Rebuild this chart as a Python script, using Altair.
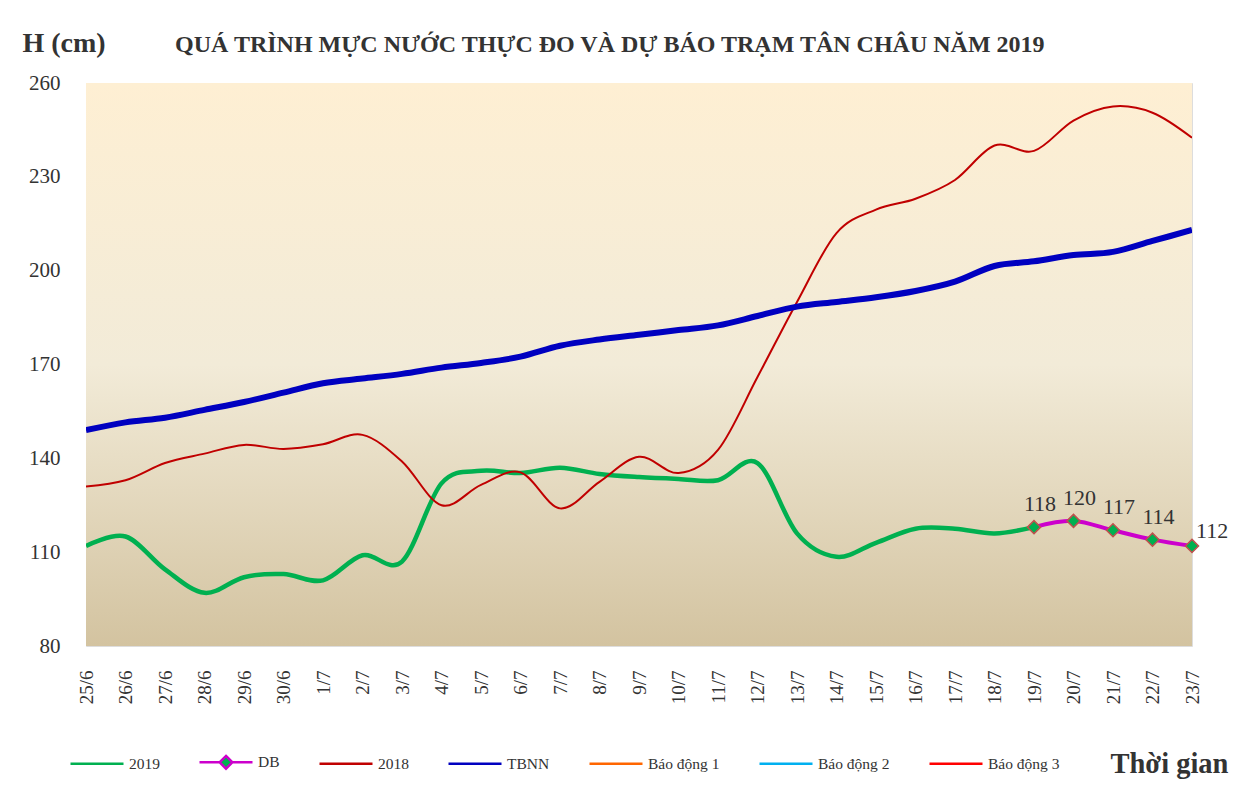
import altair as alt
import pandas as pd

dates = ["25/6", "26/6", "27/6", "28/6", "29/6", "30/6", "1/7", "2/7", "3/7", "4/7",
         "5/7", "6/7", "7/7", "8/7", "9/7", "10/7", "11/7", "12/7", "13/7", "14/7",
         "15/7", "16/7", "17/7", "18/7", "19/7", "20/7", "21/7", "22/7", "23/7"]

h2019 = [112, 115, 104.5, 97, 102, 103, 101, 109, 107, 132, 136, 135.3, 137, 135, 134,
         133.4, 133, 138.5, 116, 108.5, 113, 117.5, 117.5, 116, 118]
db_dates = ["19/7", "20/7", "21/7", "22/7", "23/7"]
h_db = [118, 120, 117, 114, 112]
h2018 = [131, 133, 138.5, 141.5, 144.3, 143, 144.5, 147.5, 139, 125, 131.5, 135.5, 124,
         132.5, 140.5, 135.3, 142.7, 166, 190, 212, 219.5, 223, 229, 240, 238.3, 248,
         252.5, 250.5, 242.5]
tbnn = [149, 151.5, 153, 155.5, 158, 161, 164, 165.5, 167, 169, 170.5, 172.5, 176, 178,
        179.5, 181, 182.5, 185.5, 188.5, 190, 191.5, 193.5, 196.5, 201.5, 203, 205, 206,
        209.5, 213]
# alert levels (above the plotted range, clipped)
bd1, bd2, bd3 = 350, 400, 450

series_names = ["2019", "DB", "2018", "TBNN", "Báo động 1", "Báo động 2", "Báo động 3"]
series_colors = ["#00B050", "#CC00CC", "#C00000", "#0000C0", "#FF6600", "#00B0F0", "#FF0000"]

rows = []
for d, v in zip(dates, h2019):
    rows.append({"date": d, "value": v, "series": "2019"})
for d, v in zip(db_dates, h_db):
    rows.append({"date": d, "value": v, "series": "DB"})
for d, v in zip(dates, h2018):
    rows.append({"date": d, "value": v, "series": "2018"})
for d, v in zip(dates, tbnn):
    rows.append({"date": d, "value": v, "series": "TBNN"})
for name, lvl in zip(["Báo động 1", "Báo động 2", "Báo động 3"], [bd1, bd2, bd3]):
    for d in dates:
        rows.append({"date": d, "value": lvl, "series": name})
df = pd.DataFrame(rows)
db_df = pd.DataFrame({"date": db_dates, "value": h_db, "label": [str(v) for v in h_db]})

FONT = "Liberation Serif"
W, H = 1106, 563

x_enc = alt.X("date:O", sort=dates,
              scale=alt.Scale(type="point", padding=0),
              axis=alt.Axis(title="Thời gian", labelAngle=-90, labelFont=FONT, labelFontSize=19,
                            labelColor="#333333", ticks=False, domain=False, labelPadding=24,
                            titleFont=FONT, titleFontSize=28.5, titleFontWeight="bold",
                            titleColor="#333333", titleAngle=0, titleAlign="left",
                            titleBaseline="alphabetic", titleX=1024, titleY=126))
y_scale = alt.Scale(domain=[80, 260], nice=False, zero=False)
y_axis = alt.Axis(title="H (cm)", values=[80, 110, 140, 170, 200, 230, 260],
                  labelFont=FONT, labelFontSize=21, labelColor="#333333",
                  ticks=False, domain=False, grid=False, labelPadding=26,
                  titleFont=FONT, titleFontSize=28, titleFontWeight="bold",
                  titleColor="#333333", titleAngle=0, titleAlign="left",
                  titleBaseline="alphabetic", titleX=-64, titleY=-32)
y_enc = alt.Y("value:Q", scale=y_scale, axis=y_axis)

bg = alt.Chart(alt.Data(values=[{"top": 260, "bottom": 80}])).mark_rect(
    fill=alt.Gradient(gradient="linear", x1=0, x2=0, y1=0, y2=1,
                      stops=[alt.GradientStop(color="#FEEFD3", offset=0),
                             alt.GradientStop(color="#F2EBD8", offset=0.5),
                             alt.GradientStop(color="#D3C3A0", offset=1)])
).encode(y=alt.Y("top:Q", scale=y_scale, axis=y_axis), y2="bottom:Q")

line_path = "M-1,0H1"
db_path = "M-1,0H-0.24M0.24,0H1M0,-0.24L0.24,0L0,0.24L-0.24,0Z"
shape_range = [line_path, db_path, line_path, line_path, line_path, line_path, line_path]

legend = alt.Legend(title=None, orient="none", direction="horizontal", columns=7,
                    legendX=-17, legendY=651, padding=0, columnPadding=34,
                    labelFont=FONT, labelFontSize=15.5, labelColor="#333333", labelOffset=4,
                    symbolSize=2809, symbolStrokeWidth=2.5, symbolFillColor="#00B050")

color_scale = alt.Scale(domain=series_names, range=series_colors)

lines = alt.Chart(df).transform_calculate(
    lw="datum.series === 'TBNN' ? 6 : datum.series === '2019' ? 4.5 : datum.series === 'DB' ? 4 : 2"
).mark_line(interpolate="cardinal", clip=True).encode(
    x=x_enc, y=y_enc,
    color=alt.Color("series:N", scale=color_scale, legend=legend),
    strokeWidth=alt.StrokeWidth("lw:Q", scale=None),
)

legend_layer = alt.Chart(df).transform_filter(alt.datum.value > 260).mark_point(
    filled=True, fill="#00B050", strokeWidth=2.5, opacity=1, clip=True
).encode(
    x=alt.X("date:O", sort=dates), y=alt.Y("value:Q"),
    stroke=alt.Stroke("series:N", scale=color_scale, legend=legend),
    shape=alt.Shape("series:N", scale=alt.Scale(domain=series_names, range=shape_range),
                    legend=legend),
)

pts = alt.Chart(db_df).mark_point(shape="diamond", filled=True, fill="#00B050", stroke="#C0504D",
                                  strokeWidth=1.5, size=170, opacity=1).encode(
    x=alt.X("date:O", sort=dates), y=alt.Y("value:Q"))

labels_a = alt.Chart(db_df).transform_filter(alt.datum.date != "23/7").mark_text(
    font=FONT, fontSize=22, color="#333333", align="center", baseline="alphabetic", dx=6, dy=-16
).encode(x=alt.X("date:O", sort=dates), y=alt.Y("value:Q"), text="label:N")
labels_b = alt.Chart(db_df).transform_filter(alt.datum.date == "23/7").mark_text(
    font=FONT, fontSize=22, color="#333333", align="left", baseline="alphabetic", dx=4, dy=-8
).encode(x=alt.X("date:O", sort=dates), y=alt.Y("value:Q"), text="label:N")

chart = alt.layer(bg, lines, legend_layer, pts, labels_a, labels_b).properties(
    width=W, height=H,
    title=alt.TitleParams("QUÁ TRÌNH MỰC NƯỚC THỰC ĐO VÀ DỰ BÁO TRẠM TÂN CHÂU NĂM 2019",
                          anchor="start", frame="group", dx=89, dy=56, offset=28,
                          font=FONT, fontSize=24, fontWeight="bold", color="#333333"),
    autosize=alt.AutoSizeParams(type="none"),
    padding={"left": 78, "top": 75, "right": 39, "bottom": 157},
).configure_view(stroke="#5F8AC6", strokeWidth=2).configure(background="white")

chart.save("out.html", embed_options={"renderer": "svg", "actions": False})
